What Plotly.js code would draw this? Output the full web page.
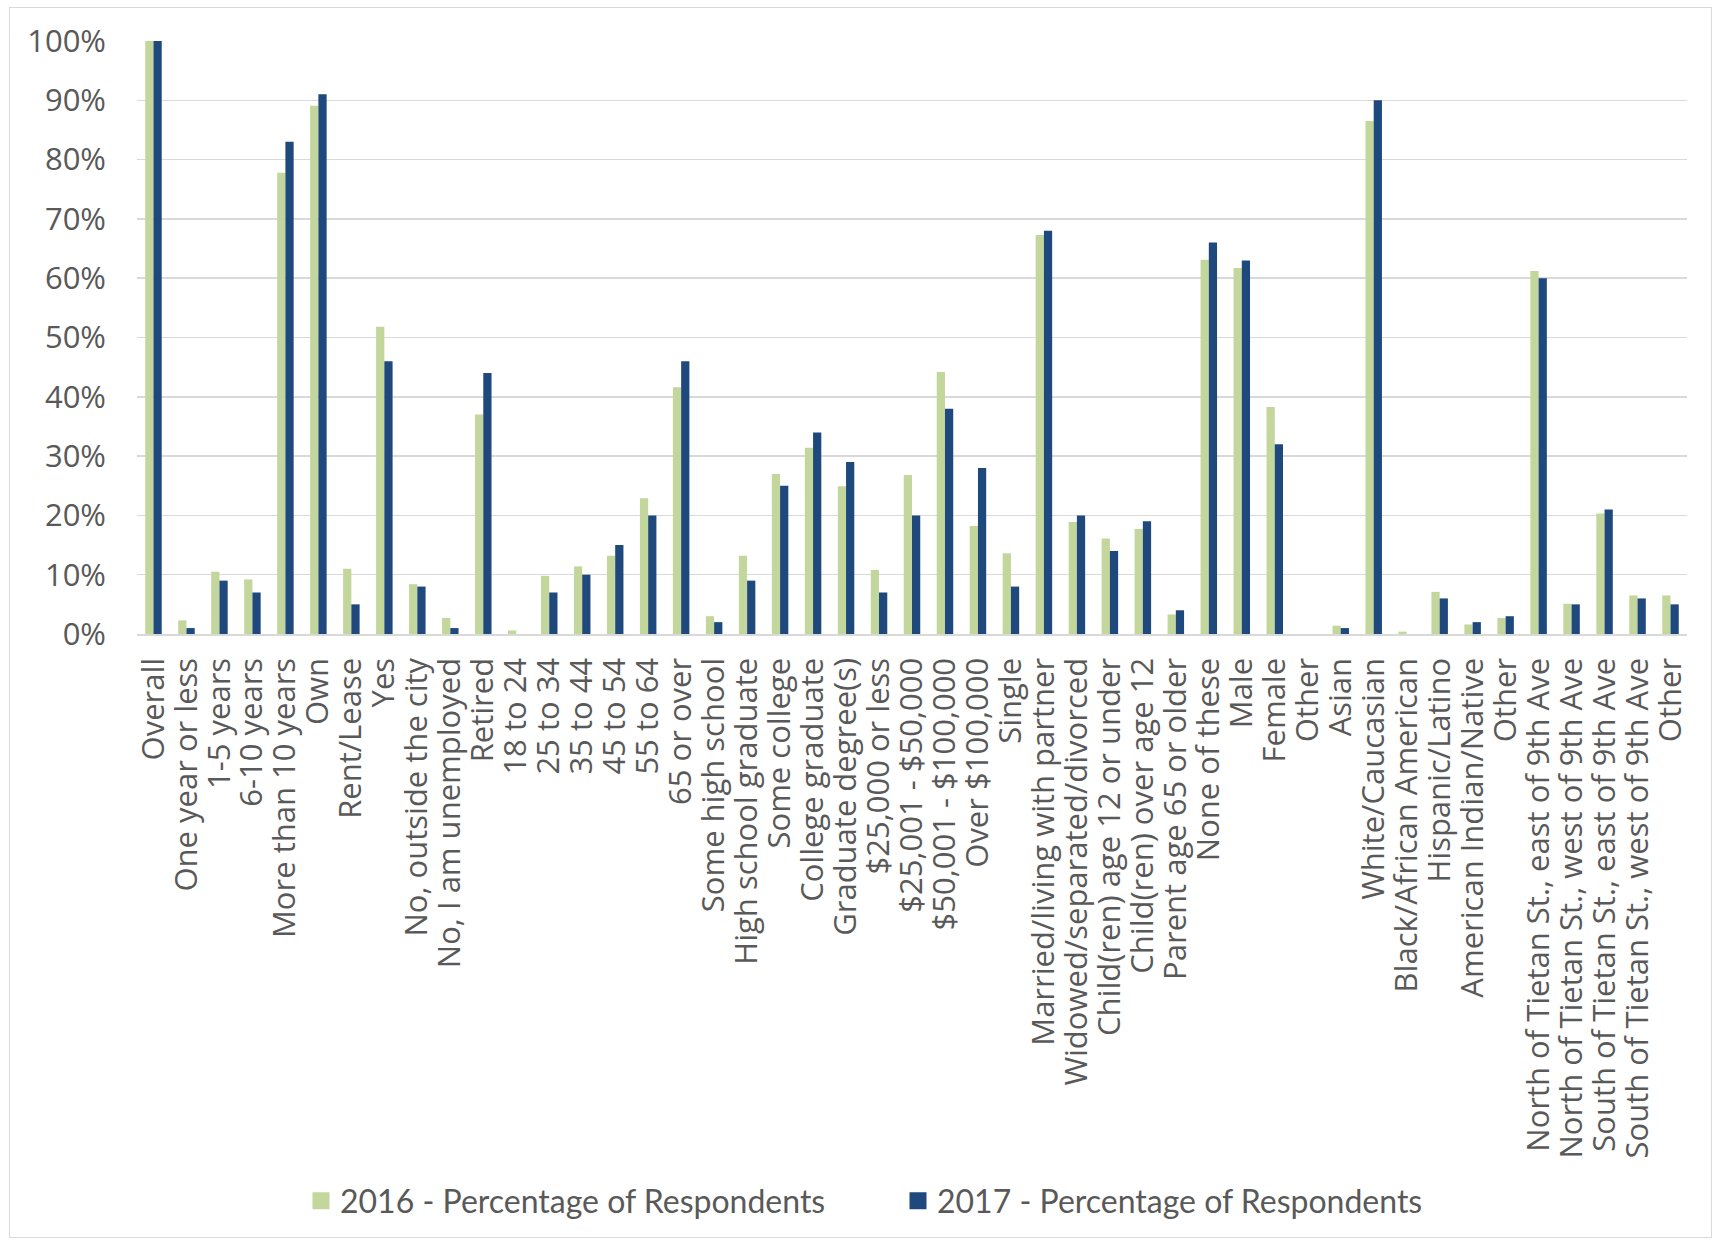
<!DOCTYPE html>
<html>
<head>
<meta charset="utf-8">
<script src="https://cdn.plot.ly/plotly-3.0.1.min.js"></script>
<style>
  html, body { margin: 0; padding: 0; background: #ffffff; }
  #wrap { position: relative; width: 1720px; height: 1240px; }
  #chart { position: absolute; left: 0; top: 0; width: 1720px; height: 1240px; }
  #frame { position: absolute; left: 9px; top: 7px; width: 1701px; height: 1229px;
           border: 1.5px solid #D9D9D9; pointer-events: none; }
</style>
</head>
<body>
<div id="wrap">
  <div id="chart"></div>
  <div id="frame"></div>
</div>
<script>
const categories = [
  "Overall", "One year or less", "1-5 years", "6-10 years", "More than 10 years",
  "Own", "Rent/Lease", "Yes", "No, outside the city", "No, I am unemployed",
  "Retired", "18 to 24", "25 to 34", "35 to 44", "45 to 54", "55 to 64",
  "65 or over", "Some high school", "High school graduate", "Some college",
  "College graduate", "Graduate degree(s)", "$25,000 or less", "$25,001 - $50,000",
  "$50,001 - $100,000", "Over $100,000", "Single", "Married/living with partner",
  "Widowed/separated/divorced", "Child(ren) age 12 or under", "Child(ren) over age 12",
  "Parent age 65 or older", "None of these", "Male", "Female", "Other", "Asian",
  "White/Caucasian", "Black/African American", "Hispanic/Latino",
  "American Indian/Native", "Other", "North of Tietan St., east of 9th Ave",
  "North of Tietan St., west of 9th Ave", "South of Tietan St., east of 9th Ave",
  "South of Tietan St., west of 9th Ave", "Other"
];

const pct2016 = [
  100, 2.3, 10.5, 9.2, 77.8, 89.1, 11.0, 51.8, 8.4, 2.7,
  37.0, 0.6, 9.8, 11.4, 13.2, 22.9, 41.6, 3.0, 13.2, 27.0,
  31.4, 24.9, 10.8, 26.8, 44.2, 18.2, 13.6, 67.3, 18.9, 16.1,
  17.7, 3.3, 63.1, 61.7, 38.3, 0, 1.4, 86.5, 0.4, 7.1,
  1.6, 2.7, 61.2, 5.1, 20.3, 6.5, 6.5
];

const pct2017 = [
  100, 1, 9, 7, 83, 91, 5, 46, 8, 1,
  44, 0, 7, 10, 15, 20, 46, 2, 9, 25,
  34, 29, 7, 20, 38, 28, 8, 68, 20, 14,
  19, 4, 66, 63, 32, 0, 1, 90, 0, 6,
  2, 3, 60, 5, 21, 6, 5
];

const seriesNames = ["2016 - Percentage of Respondents", "2017 - Percentage of Respondents"];
const yTicks = [0, 10, 20, 30, 40, 50, 60, 70, 80, 90, 100];

// positions along the category axis (categories contain duplicate "Other" labels)
const positions = categories.map((c, i) => i);

const traces = [
  { type: "bar", name: seriesNames[0], x: positions, y: pct2016,
    marker: { color: "#C3D69B" }, hoverinfo: "y" },
  { type: "bar", name: seriesNames[1], x: positions, y: pct2017,
    marker: { color: "#1F497D" }, hoverinfo: "y" }
];

const tickFont = { family: "'Open Sans', sans-serif", size: 31, color: "#595959" };

const layout = {
  width: 1720,
  height: 1240,
  paper_bgcolor: "#ffffff",
  plot_bgcolor: "#ffffff",
  margin: { l: 137, r: 33, t: 41, b: 606, pad: 0 },
  barmode: "group",
  bargap: 0.5,
  bargroupgap: 0,
  showlegend: true,
  xaxis: {
    type: "linear",
    range: [-0.5, categories.length - 0.5],
    tickmode: "array",
    tickvals: positions,
    ticktext: categories,
    tickangle: -90,
    tickfont: tickFont,
    showgrid: false,
    zeroline: false,
    showline: true,
    linecolor: "#D9D9D9",
    linewidth: 1.5,
    ticks: "",
    ticklabelstandoff: 10,
    fixedrange: true
  },
  yaxis: {
    range: [0, 100],
    tickmode: "array",
    tickvals: yTicks,
    ticktext: yTicks.map(v => v + "%"),
    tickfont: tickFont,
    showgrid: true,
    gridcolor: "#D9D9D9",
    gridwidth: 1.5,
    zeroline: false,
    showline: false,
    ticks: "",
    ticklabelstandoff: 30,
    fixedrange: true
  },
  legend: {
    orientation: "h",
    xref: "container",
    yref: "container",
    x: 300 / 1720,
    xanchor: "left",
    y: 1 - 1201 / 1240,
    yanchor: "middle",
    entrywidthmode: "pixels",
    entrywidth: 552,
    font: { family: "Lato, sans-serif", size: 32, color: "#595959" },
    itemsizing: "constant",
    bgcolor: "rgba(0,0,0,0)"
  }
};

Plotly.newPlot("chart", traces, layout, { displayModeBar: false, staticPlot: true }).then(function (gd) {
  // draw the legend colour keys as squares, as in the reference
  gd.querySelectorAll(".legend .legendpoints path").forEach(function (p) {
    p.setAttribute("d", "M-8.5,-8.5H8.5V8.5H-8.5Z");
    p.setAttribute("transform", "translate(21,0)");
    p.style.strokeWidth = "0px";
  });
});
</script>
</body>
</html>
